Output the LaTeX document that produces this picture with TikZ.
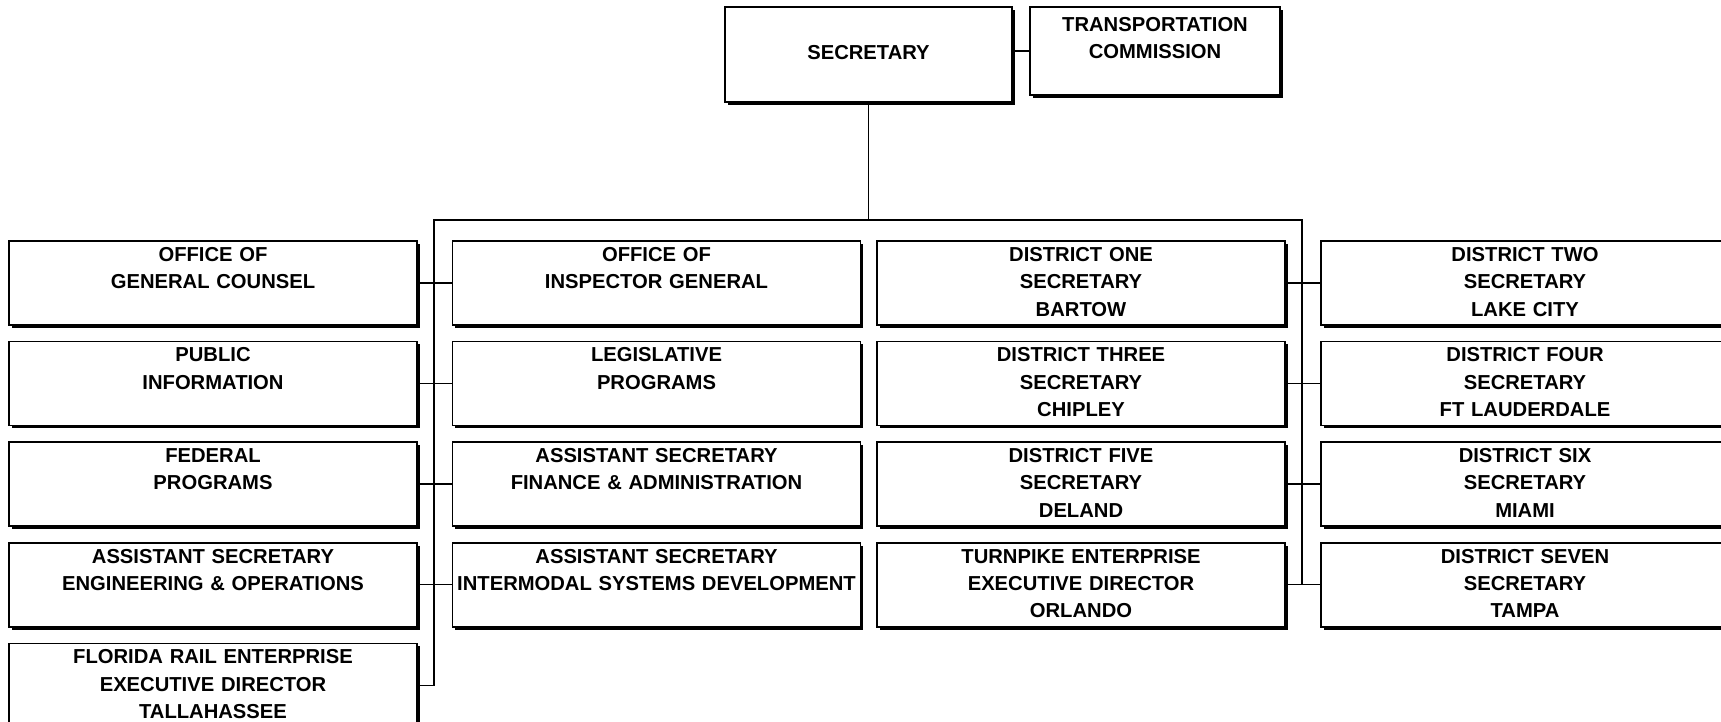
\documentclass[tikz,border=0pt]{standalone}
\usepackage{fontspec}
\setmainfont{Liberation Sans}
\usetikzlibrary{positioning, shadows}

\begin{document}
\begin{tikzpicture}[
    orgbox/.style={draw, line width=0.9pt, fill=white, inner sep=0pt, align=center,
        general shadow={fill=black, shadow xshift=1.6pt, shadow yshift=-1.6pt}},
    topbox/.style={orgbox, font=\fontsize{11.5}{15.4}\selectfont\bfseries,
        execute at begin node=\strut, execute at end node=\strut},
    unitbox/.style={orgbox, text width=8.16cm, text height=11.6pt, text depth=36.2pt,
        font=\fontsize{11.5}{15.6}\selectfont\bfseries},
    link/.style={line width=0.8pt}
]
\useasboundingbox (0,0) rectangle (34.42,-14.44);

% Top of the chart
\node[topbox, minimum width=5.74cm, minimum height=1.90cm] (sec) at (17.37,-1.09) {SECRETARY};
\node[topbox, minimum width=5.00cm, minimum height=1.76cm] (tc) at (23.10,-1.02) {TRANSPORTATION\\COMMISSION\\[-0.2cm]};

% Left group
\node[unitbox] (a1) at (4.26,-5.66) {OFFICE OF\\GENERAL COUNSEL};
\node[unitbox, below=0.30cm of a1] (a2) {PUBLIC\\INFORMATION};
\node[unitbox, below=0.30cm of a2] (a3) {FEDERAL\\PROGRAMS};
\node[unitbox, below=0.30cm of a3] (a4) {ASSISTANT SECRETARY\\ENGINEERING \& OPERATIONS};
\node[unitbox, below=0.30cm of a4] (a5) {FLORIDA RAIL ENTERPRISE\\EXECUTIVE DIRECTOR\\TALLAHASSEE};

\node[unitbox] (b1) at (13.13,-5.66) {OFFICE OF\\INSPECTOR GENERAL};
\node[unitbox, below=0.30cm of b1] (b2) {LEGISLATIVE\\PROGRAMS};
\node[unitbox, below=0.30cm of b2] (b3) {ASSISTANT SECRETARY\\FINANCE \& ADMINISTRATION};
\node[unitbox, below=0.30cm of b3] (b4) {ASSISTANT SECRETARY\\INTERMODAL SYSTEMS DEVELOPMENT};

% Districts
\node[unitbox] (c1) at (21.62,-5.66) {DISTRICT ONE\\SECRETARY\\BARTOW};
\node[unitbox, below=0.30cm of c1] (c2) {DISTRICT THREE\\SECRETARY\\CHIPLEY};
\node[unitbox, below=0.30cm of c2] (c3) {DISTRICT FIVE\\SECRETARY\\DELAND};
\node[unitbox, below=0.30cm of c3] (c4) {TURNPIKE ENTERPRISE\\EXECUTIVE DIRECTOR\\ORLANDO};

\node[unitbox] (d1) at (30.50,-5.66) {DISTRICT TWO\\SECRETARY\\LAKE CITY};
\node[unitbox, below=0.30cm of d1] (d2) {DISTRICT FOUR\\SECRETARY\\FT LAUDERDALE};
\node[unitbox, below=0.30cm of d2] (d3) {DISTRICT SIX\\SECRETARY\\MIAMI};
\node[unitbox, below=0.30cm of d3] (d4) {DISTRICT SEVEN\\SECRETARY\\TAMPA};

% Bus lines
\coordinate (lbus) at (8.68,-4.40);
\coordinate (rbus) at (26.04,-4.40);

\draw[link] (tc.west) -- (tc.west -| sec.east);
\draw[link] (sec.south) -- (sec.south |- lbus);
\draw[link] (a5.east) -| (lbus) -- (rbus) |- (c4.east);
\foreach \r in {1,2,3,4} {
    \draw[link] (a\r.east) -- (b\r.west);
    \draw[link] (c\r.east) -- (d\r.west);
}
\end{tikzpicture}
\end{document}
